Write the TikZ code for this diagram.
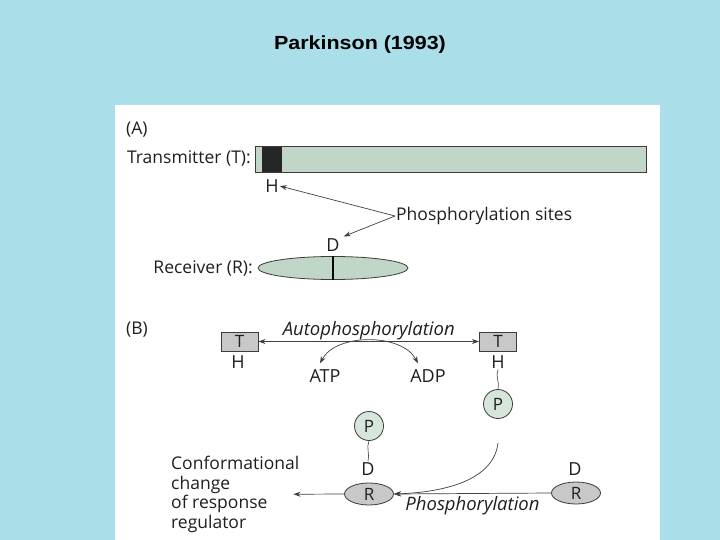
\documentclass[tikz,border=0pt]{standalone}
\usepackage{fontspec}
\setmainfont{Open Sans}
\newfontfamily\titlefont{Liberation Sans}
\usetikzlibrary{arrows.meta,positioning,shapes.geometric}

\definecolor{drop}{RGB}{170,222,233}
\definecolor{domaingreen}{RGB}{192,214,198}
\definecolor{phosgreen}{RGB}{214,230,218}
\definecolor{boxgray}{RGB}{200,200,200}
\definecolor{edgegray}{RGB}{60,60,60}

\tikzset{
    every node/.style={text=black!88},
    tag/.style={font=\fontsize{17.5}{19.5}\selectfont, inner sep=1pt},
    site/.style={font=\fontsize{18}{20}\selectfont, inner sep=1pt},
    verb/.style={font=\fontsize{18.5}{20}\selectfont\itshape, inner sep=1.5pt},
    tbox/.style={draw=edgegray, fill=boxgray, line width=0.9pt, minimum width=37pt,
        minimum height=19pt, inner sep=0pt, font=\fontsize{17}{18}\selectfont},
    pdot/.style={circle, draw=edgegray, fill=phosgreen, line width=0.8pt,
        minimum size=29pt, inner sep=0pt, font=\fontsize{17}{18}\selectfont},
    rdisc/.style={ellipse, draw=edgegray, fill=boxgray, line width=0.8pt,
        minimum width=49pt, minimum height=22pt, inner sep=0pt,
        font=\fontsize{17}{18}\selectfont},
    link/.style={draw=black!75, line width=0.7pt, -{Stealth[length=7pt,width=5pt]}},
    twoway/.style={link, {Stealth[length=7pt,width=5pt]}-{Stealth[length=7pt,width=5pt]}},
    tether/.style={draw=black!75, line width=0.6pt},
}

\begin{document}
\begin{tikzpicture}[x=1pt, y=-1pt]

    % Slide background
    \fill[drop] (0,0) rectangle (720,540);
    \useasboundingbox (0,0) rectangle (720,540);
    \node[font=\titlefont\bfseries\fontsize{19}{22}\selectfont, text=black, xscale=1.13] (title) at (360,45) {Parkinson (1993)};
    \fill[white] (115,105) rectangle (660,540);

    %% (A) Domains

    \node[tag, anchor=west] (labA) at (125,130) {(A)};

    % Transmitter
    \node[tag, anchor=east] (tlab) at (252,158) {Transmitter (T):};
    \node[draw=edgegray, fill=domaingreen, line width=1pt, anchor=west,
        minimum width=391pt, minimum height=26pt, inner sep=0pt] (tbar) at (255,159.5) {};
    \node[fill=black!85, minimum width=20pt, minimum height=25pt, inner sep=0pt] (hdom) at (272,159.5) {};
    \node[site] (hA) at (272,186) {H};

    % Receiver
    \node[site] (dA) at (333,245) {D};
    \node[ellipse, draw=edgegray, fill=domaingreen, line width=0.8pt,
        minimum width=150pt, minimum height=23pt] (recv) at (333,268) {};
    \draw[line width=1.6pt] (recv.north) -- (recv.south);
    \node[tag, anchor=east] (rlab) at (254,268) {Receiver (R):};

    % Sites
    \node[tag, anchor=west] (sites) at (395,216) {Phosphorylation sites};
    \draw[link] (sites.west) -- (hA.east);
    \draw[link] (sites.west) -- ([shift={(3,-1)}]dA.north east);

    %% (B) Two-component pathway

    \node[tag, anchor=west] (labB) at (125,330) {(B)};

    \node[tbox] (tL) at (239.5,341.5) {T};
    \node[tbox] (tR) at (498,341.5) {T};
    \node[site] (hL) at (238,362) {H};
    \node[site] (hR) at (498,362) {H};

    \draw[twoway] (tL) -- (tR) node[verb, midway, above] (auto) {Autophosphorylation};

    \node[site] (atp) at (325,376) {ATP};
    \node[site] (adp) at (428,376) {ADP};
    \draw[twoway] ([shift={(-5,-5)}]atp.north) .. controls (336,333) and (402,333) .. ([shift={(-10,-5)}]adp.north);

    % Phospho-His
    \node[pdot] (pR) at (498,404) {P};
    \draw[tether] (hR.south) .. controls ++(-3,6) and ++(2,-6) .. (pR.north);

    % Receivers
    \node[rdisc] (rR) at (576,493) {R};
    \node[site] (dR) at (575,469) {D};
    \node[rdisc] (rL) at (369,494) {R};
    \node[site] (dL) at (368,469) {D};
    \node[pdot] (pL) at (369,426) {P};
    \draw[tether] (pL.south) .. controls ++(-3,6) and ++(2,-6) .. (dL.north);

    \draw[link] (rR.west) -- (rL.east) node[verb, midway, below=1pt] (phos) {Phosphorylation};
    \coordinate[below=24pt of pR.south] (handoff);
    \draw[link] (handoff) .. controls (494,478) and (450,492) .. (rL.east);

    % Output
    \node[tag, anchor=north west, align=left, inner sep=0pt] (conf) at (171,456)
        {Conformational\\change\\of response\\regulator};
    \draw[link] (rL.west) -- ([xshift=-6pt]conf.east);

\end{tikzpicture}
\end{document}
